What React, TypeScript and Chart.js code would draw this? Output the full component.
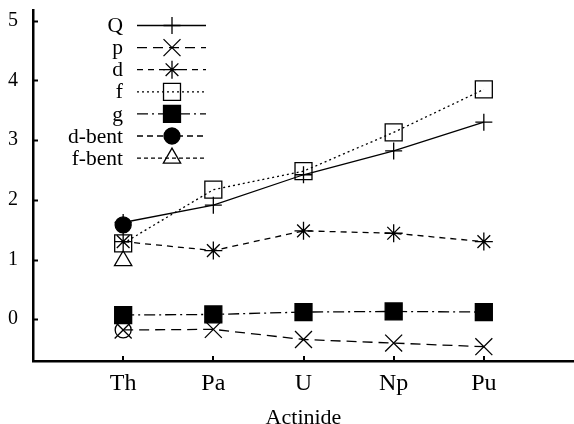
import React, { useEffect, useRef } from 'react';
import { Chart, registerables } from 'chart.js';
import { drawPoint } from 'chart.js/helpers';

Chart.register(...registerables);

const categories = ['Th', 'Pa', 'U', 'Np', 'Pu'];
const yTickValues = [0, 1, 2, 3, 4, 5];

const qValues = [1.62, 1.91, 2.42, 2.82, 3.30];
const pValues = [-0.18, -0.17, -0.34, -0.40, -0.46];
const dValues = [1.30, 1.15, 1.48, 1.44, 1.30];
const fValues = [1.27, 2.17, 2.48, 3.13, 3.85];
const gValues = [0.07, 0.08, 0.12, 0.13, 0.12];
const dBentValues = [1.58];
const fBentValues = [0.98];
const pBentValues = [-0.18];

const SERIF = '"Liberation Serif", "DejaVu Serif", "Times New Roman", serif';
const NONE = 'rgba(0,0,0,0)';

const toPoints = (vals: number[]) => vals.map((v, i) => ({ x: i, y: v }));

function makeDataset(label: string, values: number[], opts: any) {
  return {
    label,
    data: toPoints(values),
    borderColor: '#000',
    borderWidth: 1.3,
    pointBorderColor: '#000',
    pointBorderWidth: 1.3,
    pointHoverRadius: opts.pointRadius,
    fill: false,
    tension: 0,
    clip: false,
    ...opts,
  };
}

const legendPlugin = {
  id: 'customLegend',
  afterDatasetsDraw(chart: any) {
    const ctx = chart.ctx;
    const rows = chart.data.datasets.filter((d: any) => d.label);
    rows.forEach((ds: any, i: number) => {
      const y = 25.5 + i * 22.1;
      ctx.save();
      ctx.font = `21.5px ${SERIF}`;
      ctx.fillStyle = '#000';
      ctx.textAlign = 'right';
      ctx.textBaseline = 'middle';
      ctx.fillText(ds.label, 123, y + 1);
      ctx.strokeStyle = '#000';
      ctx.lineWidth = ds.borderWidth;
      ctx.setLineDash(ds.legendDash || ds.borderDash || []);
      ctx.beginPath();
      ctx.moveTo(137, y);
      ctx.lineTo(206, y);
      ctx.stroke();
      ctx.setLineDash([]);
      ctx.fillStyle = ds.pointBackgroundColor;
      ctx.strokeStyle = '#000';
      ctx.lineWidth = ds.pointBorderWidth;
      drawPoint(ctx, { pointStyle: ds.pointStyle, radius: ds.pointRadius, rotation: 0, borderWidth: ds.pointBorderWidth } as any, 172, y);
      ctx.restore();
    });
  },
};

const innerTicksPlugin = {
  id: 'innerTicks',
  afterDraw(chart: any) {
    const ctx = chart.ctx;
    const { left, bottom } = chart.chartArea;
    const xs = chart.scales.x;
    const ys = chart.scales.y;
    ctx.save();
    ctx.strokeStyle = '#000';
    ctx.lineWidth = 2;
    ctx.beginPath();
    yTickValues.forEach((v) => {
      const py = Math.round(ys.getPixelForValue(v)) + 0.5;
      ctx.moveTo(left, py);
      ctx.lineTo(left + 5, py);
    });
    categories.forEach((_, i) => {
      const px = Math.round(xs.getPixelForValue(i));
      ctx.moveTo(px, bottom);
      ctx.lineTo(px, bottom - 5);
    });
    ctx.stroke();
    ctx.restore();
  },
};

export default function App() {
  const ref = useRef<HTMLCanvasElement | null>(null);

  useEffect(() => {
    if (!ref.current) return;
    const datasets = [
      makeDataset('Q', qValues, { pointStyle: 'cross', pointRadius: 8.5, pointBackgroundColor: NONE, borderDash: [] }),
      makeDataset('p', pValues, { pointStyle: 'crossRot', pointRadius: 12, pointBackgroundColor: NONE, borderDash: [10, 6] }),
      makeDataset('d', dValues, { pointStyle: 'star', pointRadius: 9, pointBackgroundColor: NONE, borderDash: [6, 5] }),
      makeDataset('f', fValues, { pointStyle: 'rect', pointRadius: 12, pointBackgroundColor: NONE, borderDash: [2, 3] }),
      makeDataset('g', gValues, { pointStyle: 'rect', pointRadius: 12, pointBackgroundColor: '#000', borderDash: [11, 4, 2, 4] }),
      makeDataset('d-bent', dBentValues, { pointStyle: 'circle', pointRadius: 8, pointBackgroundColor: '#000', borderDash: [6, 4], legendDash: [6, 4] }),
      makeDataset('f-bent', fBentValues, { pointStyle: 'triangle', pointRadius: 10, pointBackgroundColor: NONE, borderDash: [4, 3] }),
      makeDataset('', pBentValues, { pointStyle: 'circle', pointRadius: 8, pointBackgroundColor: NONE, borderDash: [] }),
    ];

    const chart = new Chart(ref.current, {
      type: 'line',
      data: { datasets } as any,
      options: {
        animation: false,
        responsive: false,
        maintainAspectRatio: false,
        events: [],
        layout: { autoPadding: false, padding: { top: 10, right: 0, left: 0, bottom: 0 } },
        plugins: {
          legend: { display: false },
          tooltip: { enabled: false },
        },
        scales: {
          x: {
            type: 'linear',
            min: -1,
            max: 5,
            afterBuildTicks: (s: any) => {
              s.ticks = categories.map((_, i) => ({ value: i }));
            },
            afterFit: (s: any) => {
              s.height = 63;
              s.paddingLeft = 0;
              s.paddingRight = 0;
            },
            grid: { display: false, drawTicks: false },
            border: { display: true, color: '#000', width: 2.5 },
            ticks: {
              autoSkip: false,
              maxRotation: 0,
              color: '#000',
              padding: 8,
              font: { family: SERIF, size: 24 },
              callback: (v: any) => categories[v] ?? '',
            },
            title: {
              display: true,
              text: 'Actinide',
              color: '#000',
              font: { family: SERIF, size: 22 },
              padding: { top: 0, bottom: -7 },
            },
          },
          y: {
            type: 'linear',
            min: -0.7,
            max: 5.18,
            afterBuildTicks: (s: any) => {
              s.ticks = yTickValues.map((v) => ({ value: v }));
            },
            afterFit: (s: any) => {
              s.width = 33;
              s.paddingTop = 0;
              s.paddingBottom = 0;
            },
            grid: { display: false, drawTicks: false },
            border: { display: true, color: '#000', width: 2.5 },
            ticks: {
              color: '#000',
              padding: 15,
              font: { family: SERIF, size: 20 },
              callback: (v: any) => String(v),
            },
          },
        },
      } as any,
      plugins: [legendPlugin, innerTicksPlugin],
    });
    return () => chart.destroy();
  }, []);

  return (
    <div style={{ position: 'fixed', left: 0, top: 0, width: 574, height: 424, background: '#fff' }}>
      <canvas ref={ref} width={574} height={424} style={{ width: 574, height: 424, display: 'block' }} />
    </div>
  );
}
